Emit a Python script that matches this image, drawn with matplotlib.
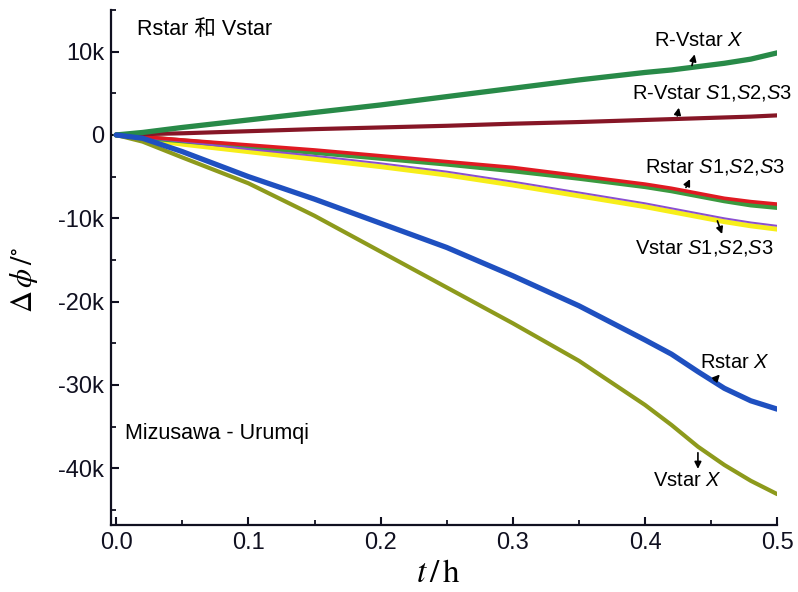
import matplotlib
matplotlib.use("Agg")
import matplotlib.pyplot as plt
from matplotlib.ticker import MultipleLocator, FuncFormatter

plt.rcParams['font.family'] = ['Liberation Sans', 'Noto Sans CJK SC', 'DejaVu Sans']
plt.rcParams['mathtext.fontset'] = 'custom'
plt.rcParams['mathtext.rm'] = 'Liberation Sans'
plt.rcParams['mathtext.it'] = 'Liberation Sans:italic'

# ---- data (values in units of 1 deg) ----
t = [0, 0.02, 0.05, 0.1, 0.15, 0.2, 0.25, 0.3, 0.35, 0.4, 0.42, 0.44, 0.46, 0.48, 0.5]
rv_x = [0, 300, 900, 1800, 2700, 3600, 4600, 5600, 6600, 7500, 7800, 8200, 8600, 9100, 9850]
rv_s = [0, 100, 200, 450, 700, 900, 1100, 1350, 1550, 1800, 1900, 2000, 2100, 2200, 2350]
r_s_red = [0, -200, -600, -1200, -1800, -2500, -3200, -3900, -4900, -5900, -6400, -7000, -7600, -8000, -8300]
r_s_green = [0, -300, -700, -1400, -2100, -2800, -3500, -4300, -5200, -6200, -6700, -7300, -7900, -8400, -8700]
v_s_purple = [0, -300, -800, -1700, -2500, -3400, -4400, -5600, -6900, -8200, -8800, -9400, -10000, -10500, -10900]
v_s_yellow = [0, -450, -1100, -2000, -2900, -3800, -4800, -6000, -7300, -8600, -9200, -9800, -10400, -10900, -11300]
r_x = [0, -400, -2000, -5000, -7700, -10600, -13500, -16900, -20500, -24600, -26300, -28400, -30400, -31900, -32900]
v_x = [0, -800, -2700, -5800, -9700, -14000, -18300, -22600, -27100, -32400, -34800, -37400, -39600, -41500, -43100]

x_ticks = [0.0, 0.1, 0.2, 0.3, 0.4, 0.5]
y_ticks = [10000, 0, -10000, -20000, -30000, -40000]

fig = plt.figure(figsize=(7.98, 5.92), dpi=100)
ax = fig.add_axes([0.139, 0.1132, 0.835, 0.870])

ax.plot(t, v_s_yellow, color='#f7ee1a', lw=3.6, solid_capstyle='round', zorder=2)
ax.plot(t, v_s_purple, color='#8a4fd0', lw=1.4, zorder=3)
ax.plot(t, r_s_green, color='#3b9a3f', lw=3.6, solid_capstyle='round', zorder=2)
ax.plot(t, r_s_red, color='#e01a22', lw=2.6, solid_capstyle='round', zorder=3)
ax.plot(t, rv_s, color='#861626', lw=3.0, solid_capstyle='round', zorder=3)
ax.plot(t, rv_x, color='#288a48', lw=3.8, solid_capstyle='round', zorder=3)
ax.plot(t, v_x, color='#8d9a1c', lw=3.0, solid_capstyle='round', zorder=3)
ax.plot(t, r_x, color='#1f50c0', lw=3.8, solid_capstyle='round', zorder=4)

ax.set_xlim(-0.004, 0.5)
ax.set_ylim(-46800, 15000)
ax.set_xticks(x_ticks)
ax.set_yticks(y_ticks)
ax.xaxis.set_minor_locator(MultipleLocator(0.05))
ax.yaxis.set_minor_locator(MultipleLocator(5000))
ax.xaxis.set_major_formatter(FuncFormatter(lambda v, p: f"{v:.1f}"))
ax.yaxis.set_major_formatter(FuncFormatter(lambda v, p: "0" if v == 0 else f"{int(round(v/1000))}k"))

for s in ['top', 'right']:
    ax.spines[s].set_visible(False)
for s in ['left', 'bottom']:
    ax.spines[s].set_linewidth(1.6)
    ax.spines[s].set_color('#101020')
ax.tick_params(which='major', direction='in', length=6, width=1.5, labelsize=17, pad=5, colors='#101020')
ax.tick_params(which='minor', direction='in', length=3.5, width=1.3, colors='#101020')

fs = 14.5
def note(text, txy, head, tail):
    ax.text(txy[0], txy[1], text, fontsize=fs, ha='center', va='center', zorder=6)
    ax.annotate('', xy=head, xytext=tail,
                arrowprops=dict(arrowstyle='-|>', color='black', lw=1.2, mutation_scale=10),
                zorder=6)

note('R-Vstar $X$', (0.441, 11300), (0.438, 10000), (0.435, 8000))
note('R-Vstar $S$1,$S$2,$S$3', (0.451, 5000), (0.426, 3600), (0.424, 1950))
note('Rstar $S$1,$S$2,$S$3', (0.453, -3850), (0.435, -5000), (0.430, -6600))
note('Vstar $S$1,$S$2,$S$3', (0.445, -13600), (0.459, -12200), (0.454, -10000))
note('Rstar $X$', (0.468, -27300), (0.458, -28500), (0.451, -29700))
note('Vstar $X$', (0.432, -41500), (0.440, -40400), (0.440, -37800))

ax.text(0.016, 12700, 'Rstar 和 Vstar', fontsize=15.5, ha='left', va='center')
ax.text(0.0065, -35800, 'Mizusawa - Urumqi', fontsize=15.5, ha='left', va='center')

fig.text(438/798, 1 - 573/592, r'$t\,/\,\mathrm{h}$', fontsize=24, ha='center', va='center',
         math_fontfamily='stix')
fig.text(24/798, 1 - 280/592, r'$\Delta\,\phi\,/^{\circ}$', fontsize=22, ha='center', va='center',
         rotation=90, math_fontfamily='stix')

fig.savefig('out.png', dpi=100)
